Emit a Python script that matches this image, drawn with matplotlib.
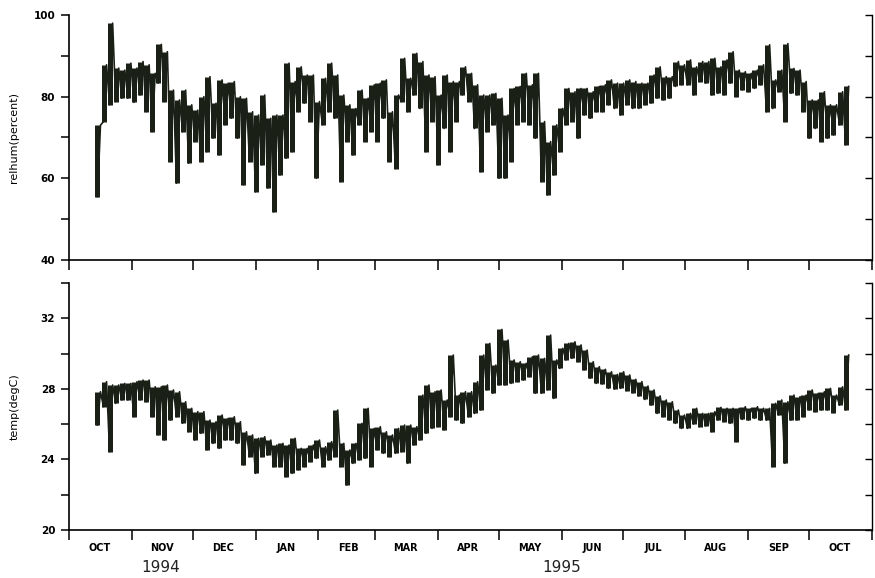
import numpy as np
import matplotlib.pyplot as plt
import matplotlib.dates as mdates
from matplotlib.ticker import FixedLocator, FuncFormatter

# samples every 3 days from 15 Oct 1994, low / high reading in each window
start = np.datetime64('1994-10-15T00')
step_h = 72

relhum_hi = [73.0, 87.8, 98.0, 87.0, 86.5, 88.2, 87.0, 88.6, 87.8, 85.7,
             92.8, 91.0, 81.6, 79.2, 81.6, 78.0, 76.7, 80.0, 84.9, 78.4,
             84.1, 83.3, 83.7, 80.0, 79.6, 76.3, 75.5, 80.4, 74.7, 75.5,
             75.5, 88.2, 83.7, 87.3, 85.3, 85.3, 78.8, 84.5, 88.2, 85.3,
             80.4, 78.0, 77.1, 81.6, 79.6, 82.9, 83.3, 84.1, 76.3, 80.4,
             89.4, 84.5, 90.6, 88.6, 85.3, 84.9, 80.4, 85.3, 83.7, 83.7,
             87.3, 85.7, 82.9, 80.4, 80.4, 80.8, 79.6, 75.5, 82.0, 82.5,
             85.7, 82.9, 85.7, 73.9, 69.0, 73.1, 77.1, 82.0, 81.2, 82.0,
             82.0, 81.2, 82.5, 82.9, 84.1, 83.3, 83.3, 84.1, 83.7, 83.3,
             83.3, 85.3, 87.3, 84.9, 84.9, 88.6, 87.8, 89.0, 87.3, 88.6,
             88.6, 89.4, 87.3, 89.0, 91.0, 86.5, 86.1, 85.7, 86.5, 87.8,
             92.7, 84.1, 86.5, 93.0, 86.9, 86.5, 83.7, 79.2, 79.2, 81.2,
             78.0, 78.0, 81.2, 82.5]
relhum_lo = [55.5, 73.9, 78.0, 78.8, 79.6, 79.6, 78.6, 80.4, 76.3, 71.4,
             83.3, 78.8, 64.1, 58.8, 71.4, 63.7, 69.0, 64.1, 66.5, 69.8,
             65.7, 73.1, 74.7, 69.8, 58.4, 64.1, 56.7, 63.3, 57.6, 51.8,
             60.8, 64.9, 66.5, 76.3, 78.4, 73.9, 60.0, 73.1, 76.3, 74.7,
             59.2, 69.0, 65.7, 73.1, 69.0, 71.4, 69.0, 74.7, 64.1, 62.4,
             78.8, 76.3, 80.4, 77.1, 66.5, 73.9, 63.3, 72.2, 66.5, 73.9,
             80.4, 78.8, 72.2, 61.6, 71.4, 73.1, 60.0, 60.0, 64.1, 73.1,
             73.9, 73.1, 69.8, 59.2, 55.9, 60.8, 66.5, 73.1, 73.9, 69.8,
             75.5, 74.7, 76.3, 76.3, 78.0, 77.1, 75.5, 78.0, 77.1, 77.1,
             78.0, 78.4, 79.6, 79.2, 79.6, 82.5, 82.9, 82.9, 80.4, 83.7,
             83.3, 80.4, 80.8, 80.4, 83.3, 80.0, 81.6, 81.2, 82.0, 82.9,
             76.3, 77.1, 81.2, 73.9, 80.8, 80.4, 76.3, 69.8, 72.2, 69.0,
             69.8, 70.6, 73.1, 68.2]

temp_hi = [27.84, 28.41, 28.22, 28.22, 28.31, 28.31, 28.41, 28.5, 28.5, 28.12,
           28.12, 28.22, 27.94, 27.84, 27.27, 26.9, 26.71, 26.71, 26.23, 26.14,
           26.52, 26.33, 26.42, 26.14, 25.57, 25.39, 25.2, 25.29, 25.1, 24.82,
           24.91, 24.82, 25.2, 24.63, 24.63, 24.82, 25.1, 24.72, 25.01, 26.8,
           24.91, 24.54, 24.91, 26.05, 26.9, 25.76, 25.86, 25.57, 25.39, 25.76,
           25.95, 25.95, 25.86, 27.65, 28.22, 27.84, 27.94, 27.37, 29.92, 27.65,
           27.84, 27.84, 28.41, 29.92, 30.58, 29.35, 31.37, 30.77, 29.64, 29.54,
           29.45, 29.82, 29.92, 29.73, 31.05, 29.64, 30.3, 30.58, 30.67, 30.49,
           30.2, 29.54, 29.26, 29.11, 28.97, 28.82, 28.97, 28.79, 28.54, 28.41,
           28.16, 27.94, 27.6, 27.37, 27.27, 26.8, 26.52, 26.61, 26.9, 26.61,
           26.61, 26.71, 26.95, 26.9, 26.9, 26.9, 26.99, 26.9, 26.99, 26.9,
           26.9, 27.18, 27.37, 27.27, 27.65, 27.56, 27.65, 27.94, 27.75, 27.84,
           28.03, 27.65, 28.12, 29.92]
temp_lo = [25.95, 26.99, 24.44, 27.18, 27.37, 27.37, 26.42, 27.37, 27.27, 26.42,
           25.39, 25.1, 26.23, 26.42, 26.05, 25.57, 25.1, 25.48, 24.54, 24.91,
           24.63, 25.1, 25.1, 24.91, 23.69, 24.16, 23.21, 24.16, 24.25, 23.59,
           23.59, 23.02, 23.21, 23.4, 23.59, 23.87, 24.06, 23.59, 23.97, 24.16,
           23.59, 22.55, 23.78, 23.97, 24.06, 23.59, 24.54, 24.35, 24.16, 24.35,
           24.44, 23.78, 24.82, 25.1, 25.48, 25.76, 25.86, 25.67, 26.42, 26.23,
           26.05, 26.42, 26.61, 26.8, 27.94, 27.75, 28.22, 28.22, 28.31, 28.41,
           28.5, 28.69, 27.75, 27.75, 27.94, 27.46, 29.16, 29.64, 29.73, 29.54,
           29.07, 28.6, 28.31, 28.28, 28.03, 27.99, 28.03, 27.9, 27.78, 27.6,
           27.4, 27.08, 26.61, 26.42, 26.23, 26.05, 25.76, 25.76, 26.01, 25.86,
           25.9, 25.57, 26.23, 26.14, 26.05, 25.01, 26.27, 26.23, 26.33, 26.23,
           26.23, 23.59, 26.52, 23.78, 26.23, 26.23, 26.42, 26.8, 26.71, 26.8,
           26.8, 26.65, 27.08, 26.8]

rh_ticks = [40, 50, 60, 70, 80, 90, 100]
t_ticks = [20, 22, 24, 26, 28, 30, 32, 34]

ink = '#1b2017'
tfont = ['Liberation Sans Narrow', 'DejaVu Sans']

n = len(relhum_hi)
t = start + np.arange(n) * np.timedelta64(step_h, 'h')


def band(ax, lo, hi):
    # each window drawn as a vertical stroke from its low to its high,
    # joined by a thin zigzag so the trace reads as a dense record
    ax.vlines(t, lo, hi, color=ink, lw=3.6)
    x = np.empty(2 * n, dtype='datetime64[h]')
    x[0::2] = t
    x[1::2] = t + np.timedelta64(step_h // 2, 'h')
    y = np.empty(2 * n)
    y[0::2] = lo
    y[1::2] = hi
    ax.plot(x, y, color=ink, lw=1.2)


fig = plt.figure(figsize=(8.75, 5.78), dpi=100)
ax1 = fig.add_axes([0.0789, 0.5502, 0.9177, 0.4239])
ax2 = fig.add_axes([0.0789, 0.0830, 0.9177, 0.4273])

band(ax1, relhum_lo, relhum_hi)
band(ax2, temp_lo, temp_hi)

ax1.set_ylim(40, 100)
ax2.set_ylim(20, 34)

for ax, ticks, lab_every, lab in [(ax1, rh_ticks, 20, 'relhum(percent)'),
                                  (ax2, t_ticks, 4, 'temp(degC)')]:
    ax.set_xlim(np.datetime64('1994-10-01'), np.datetime64('1995-11-01'))
    ax.spines['top'].set_visible(False)
    ax.spines['right'].set_visible(False)
    for s in ['left', 'bottom']:
        ax.spines[s].set_linewidth(1.2)
    ax.yaxis.set_major_locator(FixedLocator(ticks))
    ax.yaxis.set_major_formatter(FuncFormatter(
        lambda v, p, k=lab_every: f'{v:.0f}' if round(v) % k == 0 else ''))
    ax.tick_params(axis='y', direction='out', length=6, width=1.1, pad=4,
                   labelsize=7.5)
    for tl in ax.get_yticklabels():
        tl.set_family(tfont)
        tl.set_fontweight('bold')
    ax.xaxis.set_major_locator(mdates.MonthLocator())
    ax.xaxis.set_major_formatter(plt.NullFormatter())
    ax.xaxis.set_minor_locator(mdates.MonthLocator(bymonthday=16))
    ax.tick_params(axis='x', which='major', direction='out', length=7,
                   width=1.1)
    ax.tick_params(axis='x', which='minor', length=0, pad=9, labelsize=7)
    ax.set_ylabel(lab, fontsize=8)
    ax.yaxis.set_label_coords(-0.062, 0.5)

    sec = ax.secondary_yaxis('right')
    sec.set_yticks(ticks)
    sec.tick_params(direction='in', length=5, width=1.0, labelright=False)
    sec.spines['right'].set_linewidth(1.0)

ax1.xaxis.set_minor_formatter(plt.NullFormatter())
ax2.xaxis.set_minor_formatter(FuncFormatter(
    lambda v, p: mdates.num2date(v).strftime('%b').upper()))
for tl in ax2.xaxis.get_minorticklabels():
    tl.set_family(tfont)
    tl.set_fontweight('bold')

yr = ax2.get_xaxis_transform()
ax2.text(np.datetime64('1994-11-15'), -0.15, '1994', transform=yr,
         ha='center', va='center', fontsize=11, color='#222222')
ax2.text(np.datetime64('1995-06-01'), -0.15, '1995', transform=yr,
         ha='center', va='center', fontsize=11, color='#222222')

fig.savefig('out.png', dpi=100)
